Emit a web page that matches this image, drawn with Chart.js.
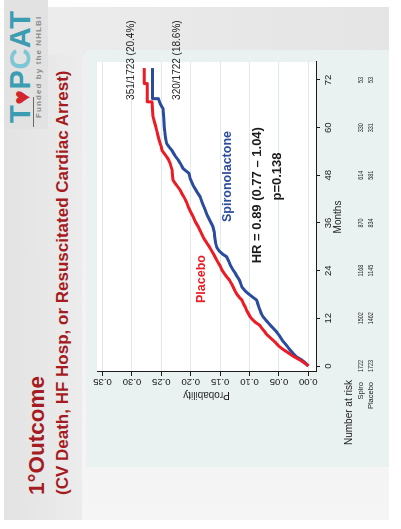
<!DOCTYPE html>
<html>
<head>
<meta charset="utf-8">
<title>TOPCAT primary outcome</title>
<script src="https://cdn.jsdelivr.net/npm/chart.js@4.4.1/dist/chart.umd.min.js"></script>
<style>
  html, body { margin: 0; padding: 0; background: #fff; overflow: hidden; }
  body { width: 401px; height: 529px; position: relative; }
  /* the slide is laid out landscape and turned a quarter turn */
  #slide {
    position: absolute; left: 0; top: 0; width: 529px; height: 401px;
    transform-origin: 0 0; transform: translate(0, 529px) rotate(-90deg);
    background: #fff; font-family: "Liberation Sans", Arial, sans-serif;
  }
  .box { position: absolute; }
  #sheet  { left: 9px; top: 4px; width: 513px; height: 385px; background: linear-gradient(90deg, #f5f5f5, #eeeeee); }
  #band   { left: 9px; top: 4px; width: 513px; height: 78px; background: linear-gradient(180deg, #e3e3e3, #ececec); }
  #header { left: 474px; top: 48px; width: 48px; height: 341px; background: linear-gradient(180deg, #ececec, #e4e4e4); }
  #panel  { left: 62px; top: 86px; width: 417px; height: 303px; background: #eaf1f1; }
  #logoBg { left: 400px; top: 4px; width: 129px; height: 44px; background: #e2e2e2; }
  #chartWrap { left: 0; top: 0; width: 529px; height: 401px; }
  .title { position: absolute; white-space: nowrap; color: #a51b21; font-weight: bold; }
  #t1 { left: 34px; top: 26px; font-size: 22.5px; line-height: 22.5px; }
  #t2 { left: 34px; top: 53.6px; font-size: 17px; line-height: 17px; }
  #logo { position: absolute; left: 406px; top: 6px; font-size: 29px; line-height: 29px; font-weight: bold; color: #3b9cb2; white-space: nowrap; letter-spacing: 0.5px; }
  #logo .heart { color: #d2262b; font-size: 25px; }
  #logo .cat { color: #7cc6d6; }
  #funded { position: absolute; left: 411px; top: 35px; font-size: 8px; line-height: 8px; font-weight: bold; color: #8c8c8c; letter-spacing: 1.1px; white-space: nowrap; }
  #logoRule { position: absolute; left: 402px; top: 33px; width: 30px; height: 1px; background: #6a6a6a; }
</style>
</head>
<body>
<div id="slide">
  <div class="box" id="sheet"></div>
  <div class="box" id="band"></div>
  <div class="box" id="header"></div>
  <div class="box" id="panel"></div>
  <div class="box" id="logoBg"></div>
  <div id="logo">T<span class="heart">♥</span>P<span class="cat">C</span>AT</div>
  <div id="logoRule"></div>
  <div id="funded">Funded by the NHLBI</div>
  <div class="title" id="t1">1°Outcome</div>
  <div class="title" id="t2">(CV Death, HF Hosp, or Resuscitated Cardiac Arrest)</div>
  <div class="box" id="chartWrap"><canvas id="km" width="529" height="401" style="width:529px;height:401px"></canvas></div>
</div>
<script>
// Cumulative event probability (Kaplan-Meier); repeated months mark the late visible steps
const placeboMonths = [0,0.5,1,1.5,2,2.5,3,3.6,4.3,5,5.8,6.5,7.3,8,8.8,9.5,10.3,11,11.7,12.4,13.2,14,14.8,15.6,16.6,17.4,18.2,19,19.9,20.8,21.6,22.5,23.3,24.2,25.2,26.2,27.3,28.4,29.4,30.4,31.5,32.5,33.8,35,36.3,37.6,38.8,40,41.2,42.4,43.4,44.3,45.5,46.8,48,49.5,51,52,52.7,53.5,54.3,55.2,56,57,58.2,59.4,60.5,61.6,62.7,64.5,66.5,66.5,71.1,71.1,75];
const placeboProb   = [0,0.004,0.009,0.014,0.020,0.026,0.031,0.037,0.044,0.050,0.055,0.060,0.066,0.071,0.075,0.079,0.083,0.090,0.095,0.099,0.102,0.105,0.107,0.110,0.113,0.118,0.122,0.125,0.128,0.131,0.134,0.139,0.143,0.147,0.150,0.154,0.158,0.162,0.166,0.170,0.175,0.179,0.183,0.187,0.192,0.196,0.200,0.204,0.207,0.211,0.215,0.218,0.224,0.230,0.231,0.232,0.235,0.238,0.241,0.245,0.249,0.250,0.252,0.254,0.256,0.258,0.260,0.262,0.264,0.265,0.266,0.274,0.274,0.279,0.279];
const spiroMonths   = [0,0.5,1,1.6,2.3,3,3.7,4.4,5,5.7,6.4,7.1,7.8,8.6,9.4,10.2,11,11.7,12.4,13.2,14,14.8,15.7,16.6,17.4,18.2,19,19.9,20.8,21.6,22.5,23.3,24.2,25.2,26.3,27.5,28.2,29,30,31.2,32.4,33.7,35,36.5,38,39.5,41,42.6,44,45.5,47.2,48.5,49.7,50.8,51.8,53,54.3,55.2,56,57.5,59,60.2,62.5,64.8,65.5,66.1,67.3,67.3,75];
const spiroProb     = [0,0.003,0.007,0.012,0.020,0.025,0.029,0.033,0.036,0.040,0.044,0.047,0.050,0.054,0.059,0.064,0.069,0.073,0.077,0.080,0.082,0.084,0.086,0.088,0.095,0.102,0.108,0.113,0.115,0.117,0.121,0.124,0.128,0.132,0.135,0.139,0.146,0.152,0.156,0.158,0.159,0.160,0.162,0.167,0.172,0.176,0.180,0.184,0.190,0.196,0.201,0.203,0.213,0.217,0.221,0.227,0.232,0.237,0.241,0.243,0.244,0.245,0.246,0.247,0.250,0.252,0.255,0.265,0.265];

// Axis ticks
const monthTicks = [0, 12, 24, 36, 48, 60, 72];
const probTicks = [0, 0.05, 0.10, 0.15, 0.20, 0.25, 0.30, 0.35];
const probTickLabels = ['0.00', '0.05', '0.10', '0.15', '0.20', '0.25', '0.30', '0.35'];

// Number at risk table
const riskRowLabels = ['Spiro', 'Placebo'];
const spiroAtRisk = [1722, 1502, 1168, 870, 614, 330, 53];
const placeboAtRisk = [1723, 1462, 1145, 834, 581, 331, 53];

const FONT = '"Liberation Sans", Arial, sans-serif';
const RED = '#ec1c24';
const BLUE = '#2a4b9e';
const INK = '#1c1c1c';

function toPoints(xs, ys) { return xs.map((x, i) => ({ x: x, y: ys[i] })); }

// Text placed inside the plot, anchored in data units
const plotNotes = [
  { text: '351/1723 (20.4%)', x: 77.0, y: 0.3015, font: '10px ' + FONT, color: INK },
  { text: '320/1722 (18.6%)', x: 77.0, y: 0.2233, font: '10px ' + FONT, color: INK },
  { text: 'Placebo', x: 21.9, y: 0.1808, font: 'bold 12.5px ' + FONT, color: RED },
  { text: 'Spironolactone', x: 47.7, y: 0.1366, font: 'bold 12.5px ' + FONT, color: BLUE },
  { text: 'HR = 0.89 (0.77 \u2013 1.04)', x: 43.0, y: 0.0872, font: 'bold 13px ' + FONT, color: INK },
  { text: 'p=0.138', x: 47.7, y: 0.0532, font: 'bold 13px ' + FONT, color: INK }
];

const decor = {
  id: 'decor',
  beforeDraw(chart) {
    const { ctx, chartArea: a } = chart;
    ctx.save();
    ctx.fillStyle = '#ffffff';
    ctx.fillRect(a.left, a.top, a.right - a.left, a.bottom - a.top);
    ctx.restore();
  },
  afterDraw(chart) {
    const { ctx, chartArea: a } = chart;
    const xs = chart.scales.x, ys = chart.scales.y;
    ctx.save();
    // vertical probability tick labels
    ctx.fillStyle = INK;
    ctx.font = '9.5px ' + FONT;
    ctx.textAlign = 'center';
    ctx.textBaseline = 'alphabetic';
    probTicks.forEach((v, i) => {
      ctx.save();
      ctx.translate(a.left - 7, ys.getPixelForValue(v));
      ctx.rotate(-Math.PI / 2);
      ctx.fillText(probTickLabels[i], 0, 0);
      ctx.restore();
    });
    // number at risk
    ctx.font = '10px ' + FONT;
    ctx.textAlign = 'right';
    ctx.fillText('Number at risk', a.left - 8, a.bottom + 36);
    const rows = [spiroAtRisk, placeboAtRisk];
    rows.forEach((vals, r) => {
      const base = a.bottom + 47 + r * 10;
      ctx.font = '7.5px ' + FONT;
      ctx.textAlign = 'right';
      ctx.fillText(riskRowLabels[r], a.left - 10, base);
      ctx.textAlign = 'center';
      vals.forEach((n, i) => {
        ctx.save();
        ctx.translate(xs.getPixelForValue(monthTicks[i]), base);
        ctx.scale(0.72, 1);
        ctx.fillText(String(n), 0, 0);
        ctx.restore();
      });
    });
    // annotations
    ctx.textAlign = 'center';
    ctx.textBaseline = 'middle';
    plotNotes.forEach(n => {
      ctx.font = n.font;
      ctx.fillStyle = n.color;
      ctx.fillText(n.text, xs.getPixelForValue(n.x), ys.getPixelForValue(n.y));
    });
    ctx.restore();
  }
};

new Chart(document.getElementById('km'), {
  type: 'line',
  data: {
    datasets: [
      { label: 'Placebo', data: toPoints(placeboMonths, placeboProb), borderColor: RED, borderWidth: 3, pointRadius: 0, fill: false, tension: 0, borderJoinStyle: 'round' },
      { label: 'Spironolactone', data: toPoints(spiroMonths, spiroProb), borderColor: BLUE, borderWidth: 3, pointRadius: 0, fill: false, tension: 0, borderJoinStyle: 'round' }
    ]
  },
  options: {
    responsive: false,
    animation: false,
    devicePixelRatio: 1,
    layout: { padding: { left: 127, right: 62, top: 97, bottom: 55 } },
    plugins: { legend: { display: false }, tooltip: { enabled: false } },
    scales: {
      x: {
        type: 'linear', min: -1.51, max: 76.53,
        afterBuildTicks: s => { s.ticks = monthTicks.map(v => ({ value: v })); },
        afterFit: s => { s.height = 30; },
        ticks: { font: { family: FONT, size: 9.5 }, color: INK, padding: 3, maxRotation: 0, autoSkip: false, callback: v => String(v) },
        grid: { drawOnChartArea: false, drawTicks: true, tickLength: 4, tickColor: INK, tickWidth: 1 },
        border: { display: true, color: INK, width: 1 },
        title: { display: true, text: 'Months', font: { family: FONT, size: 10 }, color: INK, padding: { top: 0, bottom: 2 } }
      },
      y: {
        type: 'linear', min: -0.0131, max: 0.3594,
        afterBuildTicks: s => { s.ticks = probTicks.map(v => ({ value: v })); },
        afterFit: s => { s.width = 30; },
        ticks: { display: false },
        grid: { color: '#e1eaeb', lineWidth: 1, drawTicks: true, tickLength: 4, tickColor: INK, tickWidth: 1 },
        border: { display: true, color: INK, width: 1 },
        title: { display: true, text: 'Probability', font: { family: FONT, size: 10 }, color: INK, padding: { top: 1, bottom: 0 } }
      }
    }
  },
  plugins: [decor]
});
</script>
</body>
</html>
